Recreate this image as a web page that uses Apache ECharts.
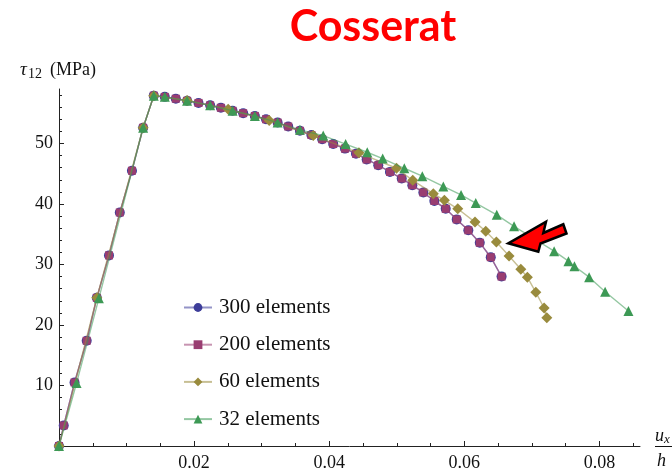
<!DOCTYPE html>
<html>
<head>
<meta charset="utf-8">
<script src="https://cdn.jsdelivr.net/npm/echarts@6/dist/echarts.min.js"></script>
<style>
  html, body { margin: 0; padding: 0; background: #fff; }
  #chart { width: 672px; height: 472px; }
</style>
</head>
<body>
<div id="chart"></div>
<script>
// Shear stress tau_12 (MPa) against normalised displacement u_x/h
const seriesNames = ['300 elements', '200 elements', '60 elements', '32 elements'];

const x300 = [0, 0.0007, 0.0023, 0.0041, 0.0056, 0.0074, 0.0090, 0.0108, 0.01245, 0.01403,
  0.01566, 0.01729, 0.01896, 0.02065, 0.02237, 0.02396, 0.02569, 0.02726, 0.02899, 0.03064,
  0.03236, 0.03393, 0.03566, 0.03736, 0.03896, 0.04059, 0.04233, 0.04396, 0.04554, 0.04726,
  0.04899, 0.05073, 0.0523, 0.05393, 0.05556, 0.05724, 0.05887, 0.06059, 0.06228, 0.06391, 0.06551];
const y300 = [0, 3.4, 10.5, 17.4, 24.5, 31.5, 38.6, 45.5, 52.6, 57.9,
  57.7, 57.4, 57.05, 56.7, 56.3, 55.9, 55.4, 55.0, 54.55, 54.0,
  53.45, 52.8, 52.1, 51.4, 50.7, 49.9, 49.15, 48.3, 47.35, 46.4,
  45.3, 44.2, 43.1, 41.9, 40.5, 39.2, 37.45, 35.65, 33.6, 31.2, 28.0];

const x200 = [0, 0.0007, 0.0023, 0.0041, 0.0056, 0.0074, 0.0090, 0.0108, 0.01245, 0.01403,
  0.01566, 0.01729, 0.01896, 0.02065, 0.02237, 0.02396, 0.02569, 0.02726, 0.02899, 0.03064,
  0.03236, 0.03393, 0.03566, 0.03736, 0.03896, 0.04059, 0.04233, 0.04396, 0.04554, 0.04726,
  0.04899, 0.05073, 0.0523, 0.05393, 0.05556, 0.05724, 0.05887, 0.06059, 0.06228, 0.06391, 0.06551];
const y200 = [0, 3.4, 10.5, 17.4, 24.5, 31.5, 38.6, 45.5, 52.6, 57.9,
  57.7, 57.4, 57.05, 56.7, 56.3, 55.9, 55.4, 55.0, 54.55, 54.0,
  53.45, 52.8, 52.1, 51.4, 50.7, 49.9, 49.15, 48.3, 47.35, 46.4,
  45.3, 44.2, 43.1, 41.9, 40.5, 39.2, 37.45, 35.65, 33.6, 31.2, 28.0];

const x60 = [0, 0.0056, 0.01245, 0.01403, 0.01896, 0.02504, 0.03111, 0.03763, 0.0444, 0.04996,
  0.05236, 0.05541, 0.05704, 0.05902, 0.06158, 0.06317, 0.06474, 0.06662, 0.06836, 0.06933,
  0.07058, 0.07181, 0.07221];
const y60 = [0, 24.5, 52.6, 57.9, 57.1, 55.65, 53.8, 51.3, 48.45, 45.9,
  43.9, 41.7, 40.6, 39.2, 37.0, 35.5, 33.7, 31.4, 29.2, 27.9,
  25.4, 22.8, 21.2];

const x32 = [0, 0.0026, 0.0059, 0.01245, 0.01403, 0.01566, 0.01896, 0.02237, 0.02569, 0.02899,
  0.03236, 0.03566, 0.03911, 0.04243, 0.04563, 0.04791, 0.05111, 0.05378, 0.05689, 0.05951,
  0.06169, 0.0648, 0.06736, 0.07033, 0.07329, 0.07541, 0.0763, 0.07847, 0.08084, 0.08429];
const y32 = [0, 10.4, 24.4, 52.6, 57.9, 57.7, 57.05, 56.3, 55.4, 54.55,
  53.45, 52.25, 51.3, 49.9, 48.55, 47.5, 45.9, 44.6, 42.9, 41.5,
  40.15, 38.2, 36.3, 34.25, 32.2, 30.55, 29.7, 27.9, 25.5, 22.3];

// axis ticks
const xMajor = [0.02, 0.04, 0.06, 0.08];
const xMinor = [0.005, 0.01, 0.015, 0.025, 0.03, 0.035, 0.045, 0.05, 0.055, 0.065, 0.07, 0.075, 0.085];
const yMajor = [10, 20, 30, 40, 50];
const yMinor = [2, 4, 6, 8, 12, 14, 16, 18, 22, 24, 26, 28, 32, 34, 36, 38, 42, 44, 46, 48, 52, 54, 56, 58];

const serif = '"Liberation Serif", "DejaVu Serif", serif';
const axisColor = '#222';

const zip = (xs, ys) => xs.map((x, i) => [x, ys[i]]);

function makeSeries(name, xs, ys, color, symbol, size, z) {
  return {
    name: name,
    type: 'line',
    data: zip(xs, ys),
    xAxisIndex: 0,
    yAxisIndex: 0,
    symbol: symbol,
    symbolSize: size,
    showAllSymbol: true,
    z: z,
    itemStyle: { color: color, opacity: 1 },
    lineStyle: { color: color, width: 1.4, opacity: 0.55 },
    emphasis: { disabled: true },
    animation: false
  };
}

const chart = echarts.init(document.getElementById('chart'), null, { renderer: 'canvas' });

const option = {
  animation: false,
  backgroundColor: '#fff',
  grid: { left: 59, right: 32, top: 89, bottom: 23, containLabel: false },
  xAxis: [
    {
      type: 'value', min: 0, max: 0.086,
      axisLine: { show: true, onZero: false, lineStyle: { color: axisColor, width: 1 } },
      axisTick: { show: true, inside: true, length: 5, customValues: xMajor, lineStyle: { color: axisColor } },
      axisLabel: {
        show: true, customValues: xMajor, margin: 8,
        formatter: v => v.toFixed(2),
        fontFamily: serif, fontSize: 18, color: '#111'
      },
      splitLine: { show: false }
    },
    {
      type: 'value', min: 0, max: 0.086, position: 'bottom',
      axisLine: { show: false },
      axisTick: { show: true, inside: true, length: 3, customValues: xMinor, lineStyle: { color: axisColor } },
      axisLabel: { show: false },
      splitLine: { show: false }
    }
  ],
  yAxis: [
    {
      type: 'value', min: 0, max: 59,
      axisLine: { show: true, onZero: false, lineStyle: { color: axisColor, width: 1 } },
      axisTick: { show: true, inside: true, length: 5, customValues: yMajor, lineStyle: { color: axisColor } },
      axisLabel: {
        show: true, customValues: yMajor, margin: 6,
        fontFamily: serif, fontSize: 18, color: '#111'
      },
      splitLine: { show: false }
    },
    {
      type: 'value', min: 0, max: 59, position: 'left',
      axisLine: { show: false },
      axisTick: { show: true, inside: true, length: 3, customValues: yMinor, lineStyle: { color: axisColor } },
      axisLabel: { show: false },
      splitLine: { show: false }
    }
  ],
  legend: {
    orient: 'vertical',
    left: 178,
    top: 292,
    itemWidth: 28,
    itemHeight: 11,
    itemGap: 16.2,
    data: seriesNames,
    textStyle: { fontFamily: serif, fontSize: 21, color: '#111', lineHeight: 20, padding: [0, 0, 0, 2] },
    selectedMode: false
  },
  series: [
    makeSeries(seriesNames[0], x300, y300, '#3d3d99', 'circle', 10, 2),
    makeSeries(seriesNames[1], x200, y200, '#993d71', 'rect', 8, 3),
    makeSeries(seriesNames[2], x60, y60, '#998b3d', 'diamond', 11, 4),
    makeSeries(seriesNames[3], x32, y32, '#3d9955', 'triangle', 10, 5)
  ],
  graphic: [
    {
      type: 'text', z: 10,
      style: { text: 'Cosserat', x: 373, y: 27, textAlign: 'center', textVerticalAlign: 'middle',
        font: 'bold 43px Lato, "Open Sans", sans-serif', fill: '#ff0000' }
    },
    // y-axis name: tau_12 (MPa)
    { type: 'text', z: 10, style: { text: 'τ', x: 20, y: 70, textVerticalAlign: 'middle',
        font: 'italic 19px ' + serif, fill: '#111' } },
    { type: 'text', z: 10, style: { text: '12', x: 28, y: 74, textVerticalAlign: 'middle',
        font: '14px ' + serif, fill: '#111' } },
    { type: 'text', z: 10, style: { text: '(MPa)', x: 50, y: 70, textVerticalAlign: 'middle',
        font: '18px ' + serif, fill: '#111' } },
    // x-axis name: u_x / h
    { type: 'text', z: 10, style: { text: 'u', x: 655, y: 436, textVerticalAlign: 'middle',
        font: 'italic 18px ' + serif, fill: '#111' } },
    { type: 'text', z: 10, style: { text: 'x', x: 664, y: 440, textVerticalAlign: 'middle',
        font: 'italic 13px ' + serif, fill: '#111' } },
    { type: 'line', z: 10, shape: { x1: 655, y1: 446.5, x2: 672, y2: 446.5 },
      style: { stroke: '#111', lineWidth: 1 } },
    { type: 'text', z: 10, style: { text: 'h', x: 657, y: 461, textVerticalAlign: 'middle',
        font: 'italic 18px ' + serif, fill: '#111' } },
    // red pointer arrow
    {
      type: 'polygon', z: 20,
      shape: { points: [[508.3, 243.3], [546, 221.7], [543.3, 233], [563.3, 224.3], [566.5, 233.5], [540.5, 243.5], [538.3, 251.7]] },
      style: { fill: '#ff0000', stroke: '#000', lineWidth: 2.5, lineJoin: 'miter' }
    }
  ]
};

chart.setOption(option);
</script>
</body>
</html>
